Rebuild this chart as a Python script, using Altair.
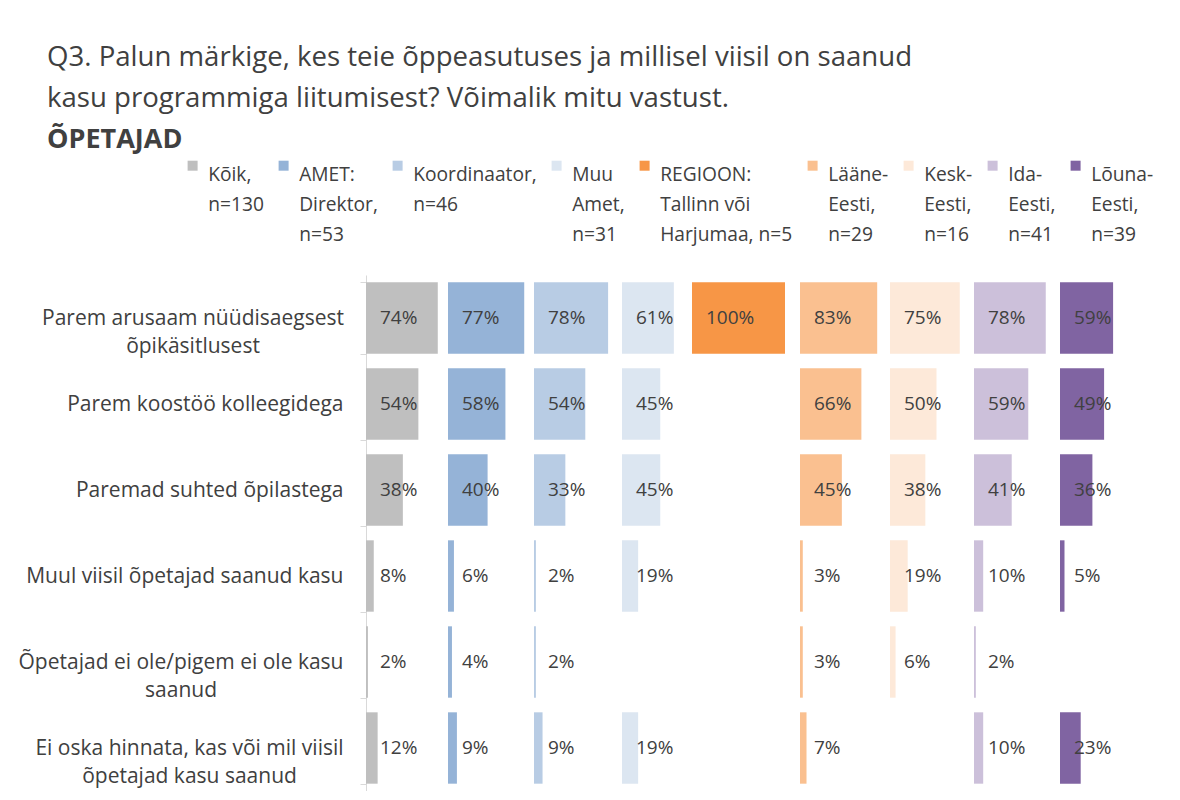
import json
import altair as alt
import pandas as pd

FONT = "Open Sans"
TXT = "#404040"

categories = [
    "Parem arusaam nüüdisaegsest õpikäsitlusest",
    "Parem koostöö kolleegidega",
    "Paremad suhted õpilastega",
    "Muul viisil õpetajad saanud kasu",
    "Õpetajad ei ole/pigem ei ole kasu saanud",
    "Ei oska hinnata, kas või mil viisil õpetajad kasu saanud",
]
category_lines = [
    ["Parem arusaam nüüdisaegsest", "õpikäsitlusest"],
    ["Parem koostöö kolleegidega"],
    ["Paremad suhted õpilastega"],
    ["Muul viisil õpetajad saanud kasu"],
    ["Õpetajad ei ole/pigem ei ole kasu", "saanud"],
    ["Ei oska hinnata, kas või mil viisil", "õpetajad kasu saanud"],
]

groups = [
    "Kõik, n=130",
    "AMET: Direktor, n=53",
    "Koordinaator, n=46",
    "Muu Amet, n=31",
    "REGIOON: Tallinn või Harjumaa, n=5",
    "Lääne-Eesti, n=29",
    "Kesk-Eesti, n=16",
    "Ida-Eesti, n=41",
    "Lõuna-Eesti, n=39",
]
group_lines = [
    ["Kõik,", "n=130", " "],
    ["AMET:", "Direktor,", "n=53"],
    ["Koordinaator,", "n=46", " "],
    ["Muu", "Amet,", "n=31"],
    ["REGIOON:", "Tallinn või", "Harjumaa, n=5"],
    ["Lääne-", "Eesti,", "n=29"],
    ["Kesk-", "Eesti,", "n=16"],
    ["Ida-", "Eesti,", "n=41"],
    ["Lõuna-", "Eesti,", "n=39"],
]
colors = ["#BFBFBF", "#95B3D7", "#B8CCE4", "#DCE6F1", "#F79646",
          "#FAC090", "#FDE9D9", "#CCC0DA", "#8064A2"]

# percent values per group, in category order (None = no answer shown)
v_koik = [74, 54, 38, 8, 2, 12]
v_direktor = [77, 58, 40, 6, 4, 9]
v_koordinaator = [78, 54, 33, 2, 2, 9]
v_muu = [61, 45, 45, 19, None, 19]
v_tallinn = [100, None, None, None, None, None]
v_laane = [83, 66, 45, 3, 3, 7]
v_kesk = [75, 50, 38, 19, 6, None]
v_ida = [78, 59, 41, 10, 2, 10]
v_louna = [59, 49, 36, 5, None, 23]
series = [v_koik, v_direktor, v_koordinaator, v_muu, v_tallinn,
          v_laane, v_kesk, v_ida, v_louna]

rows = []
for g, vals in zip(groups, series):
    for c, v in zip(categories, vals):
        rows.append({"category": c, "group": g, "value": v})
df = pd.DataFrame(rows)

# layout: panel widths (px) and pixels per 100%
panel_w = [82, 86, 88, 70, 108, 90, 84, 86, 100]
px_per_100 = [97, 99, 95, 85, 93, 93, 93, 92, 90]
H = 516
CAT_FS = 21

cat_map = json.dumps(dict(zip(categories, category_lines)), ensure_ascii=False)
grp_map = json.dumps(dict(zip(groups, group_lines)), ensure_ascii=False)

# multi-line category labels: lines centred, block right-aligned at the axis
multi = [c for c, l in zip(categories, category_lines) if len(l) > 1]
block_w = [301, 325, 308]
pad_conds = [
    {"test": "datum.value === " + json.dumps(c, ensure_ascii=False), "value": 17 + w / 2}
    for c, w in zip(multi, block_w)
]
align_test = "indexof(" + json.dumps(multi, ensure_ascii=False) + ", datum.value) >= 0"

legend = alt.Legend(
    title=None, orient="none", legendX=-183, legendY=-119,
    direction="horizontal", columns=9,
    symbolType="square", symbolSize=100, symbolStrokeWidth=0,
    labelFont=FONT, labelFontSize=19.2, labelColor=TXT, labelLimit=400,
    labelExpr=grp_map + "[datum.label] || datum.label",
    labelBaseline="top", labelOffset=6, columnPadding=10,
)

color = alt.Color("group:N", scale=alt.Scale(domain=groups, range=colors), legend=legend)

panels = []
for i, g in enumerate(groups):
    if i == 0:
        yaxis = alt.Axis(
            title=None,
            labelExpr=cat_map + "[datum.value] || datum.value",
            labelFont=FONT, labelFontSize=CAT_FS, labelColor=TXT, labelLineHeight=28,
            labelAlign={"condition": {"test": align_test, "value": "center"}, "value": "right"},
            labelPadding={"condition": pad_conds, "value": 17},
            labelBaseline="middle",
            domainColor="#D9D9D9", tickColor="#D9D9D9", tickSize=6, tickBand="extent",
            labelLimit=500,
        )
    else:
        yaxis = None
    y = alt.Y("category:N", sort=categories, axis=yaxis,
              scale=alt.Scale(paddingInner=0.17, paddingOuter=0.085))
    base = alt.Chart(df).transform_filter(alt.datum.group == g)
    bars = base.mark_bar().encode(
        x=alt.X("value:Q", axis=None,
                scale=alt.Scale(domain=[0, 100 * panel_w[i] / px_per_100[i]], nice=False, zero=True)),
        y=y,
        color=color,
    )
    labels = base.transform_filter("datum.value != null").transform_calculate(
        lbl="datum.value + '%'"
    ).mark_text(align="left", baseline="middle", font=FONT, fontSize=19, color=TXT).encode(
        x=alt.value(14),
        y=alt.Y("category:N", sort=categories),
        text="lbl:N",
    )
    panels.append(alt.layer(bars, labels).properties(width=panel_w[i], height=H))

chart = alt.hconcat(*panels, spacing=0).resolve_scale(
    x="independent", color="shared"
).resolve_legend(color="shared").properties(
    title=alt.TitleParams(
        text=["Q3. Palun märkige, kes teie õppeasutuses ja millisel viisil on saanud",
              "kasu programmiga liitumisest? Võimalik mitu vastust."],
        subtitle=["ÕPETAJAD"],
        anchor="start", frame="group", dx=-319, offset=3,
        font=FONT, fontSize=27.6, fontWeight="normal", color=TXT, lineHeight=41,
        subtitleFont=FONT, subtitleFontSize=27, subtitleFontWeight="bold",
        subtitleColor=TXT, subtitleLineHeight=38, subtitlePadding=14,
    ),
    padding={"left": 10, "top": 36, "right": 4, "bottom": 0},
).configure(
    background="white",
    view=alt.ViewConfig(stroke=None),
    style={"guide-label": {"lineHeight": 30}},
)

chart.save("out.html", embed_options={"renderer": "svg", "actions": False})
